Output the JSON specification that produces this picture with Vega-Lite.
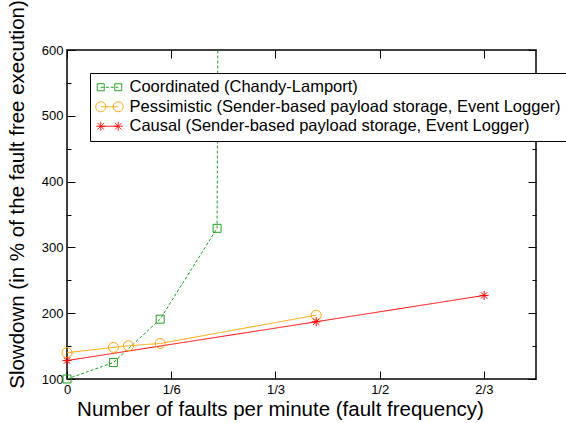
{
  "$schema": "https://vega.github.io/schema/vega-lite/v6.json",
  "width": 469,
  "height": 329,
  "autosize": "none",
  "padding": {"left": 67, "top": 50, "right": 30, "bottom": 44},
  "background": "white",
  "config": {
    "view": {"stroke": "black", "strokeWidth": 1.5},
    "font": "Liberation Sans",
    "axis": {"domain": false, "grid": false, "tickColor": "black", "tickWidth": 1, "labelColor": "black", "titleColor": "black", "labelFont": "Liberation Sans", "titleFont": "Liberation Sans", "titleFontWeight": "normal", "labelFontSize": 13, "titleFontSize": 20.5, "labelFlush": false, "labelOverlap": false},
    "legend": {"labelFont": "Liberation Sans", "labelFontSize": 16.5, "labelColor": "black", "labelLimit": 600, "symbolStrokeWidth": 1, "symbolSize": 196}
  },
  "data": {"values": [
    {"series": "Coordinated (Chandy-Lamport)", "x": 0, "y": 100},
    {"series": "Coordinated (Chandy-Lamport)", "x": 0.0742, "y": 125},
    {"series": "Coordinated (Chandy-Lamport)", "x": 0.149, "y": 191},
    {"series": "Coordinated (Chandy-Lamport)", "x": 0.240, "y": 329},
    {"series": "Coordinated (Chandy-Lamport)", "x": 0.245, "y": 1500},
    {"series": "Pessimistic (Sender-based payload storage, Event Logger)", "x": 0, "y": 140},
    {"series": "Pessimistic (Sender-based payload storage, Event Logger)", "x": 0.0742, "y": 148},
    {"series": "Pessimistic (Sender-based payload storage, Event Logger)", "x": 0.0983, "y": 150.5},
    {"series": "Pessimistic (Sender-based payload storage, Event Logger)", "x": 0.149, "y": 154},
    {"series": "Pessimistic (Sender-based payload storage, Event Logger)", "x": 0.3985, "y": 197},
    {"series": "Causal (Sender-based payload storage, Event Logger)", "x": 0, "y": 128},
    {"series": "Causal (Sender-based payload storage, Event Logger)", "x": 0.3985, "y": 187},
    {"series": "Causal (Sender-based payload storage, Event Logger)", "x": 0.667, "y": 227}
  ]},
  "resolve": {"axis": {"x": "independent", "y": "independent"}},
  "layer": [
    {
      "mark": {"type": "line", "clip": true, "strokeWidth": 1},
      "encoding": {
        "x": {"field": "x", "type": "quantitative", "scale": {"domain": [0, 0.75], "nice": false, "zero": false},
          "axis": {"orient": "bottom", "values": [0, 0.16667, 0.33333, 0.5, 0.66667], "tickSize": -8, "labelPadding": 12, "labelFontSize": 13, "labelFlush": false,
            "labelExpr": "datum.value < 0.01 ? '0' : datum.value < 0.2 ? '1/6' : datum.value < 0.4 ? '1/3' : datum.value < 0.6 ? '1/2' : '2/3'",
            "title": "Number of faults per minute (fault frequency)", "titleX": 213, "titleY": 36, "titleBaseline": "alphabetic", "titleAlign": "center", "titleAnchor": null}},
        "y": {"field": "y", "type": "quantitative", "scale": {"domain": [100, 600], "nice": false, "zero": false},
          "axis": {"orient": "left", "values": [100, 200, 300, 400, 500, 600], "tickSize": -8, "labelPadding": 12, "labelFontSize": 13, "labelFlush": false,
            "title": "Slowdown (in % of the fault free execution)", "titleX": -50, "titleY": 144, "titleBaseline": "middle", "titleAlign": "center", "titleAngle": -90, "titleAnchor": null}},
        "color": {"field": "series", "type": "nominal", "sort": null,
          "scale": {"domain": ["Coordinated (Chandy-Lamport)", "Pessimistic (Sender-based payload storage, Event Logger)", "Causal (Sender-based payload storage, Event Logger)"], "range": ["#22a022", "#ffa500", "#ff0000"]},
          "legend": {"title": null, "orient": "none", "legendX": 23, "legendY": 23, "fillColor": "white", "strokeColor": "black", "cornerRadius": 0, "padding": 6, "symbolSize": 196, "symbolStrokeWidth": 1, "labelOffset": 17, "rowPadding": 2.5, "labelLimit": 600}},
        "strokeDash": {"field": "series", "type": "nominal", "sort": null,
          "scale": {"domain": ["Coordinated (Chandy-Lamport)", "Pessimistic (Sender-based payload storage, Event Logger)", "Causal (Sender-based payload storage, Event Logger)"], "range": [[3, 2], [1, 0], [1, 0]]},
          "legend": {"title": null, "orient": "none", "legendX": 23, "legendY": 23, "fillColor": "white", "strokeColor": "black", "cornerRadius": 0, "padding": 6, "symbolSize": 196, "symbolStrokeWidth": 1, "labelOffset": 17, "rowPadding": 2.5, "labelLimit": 600}}
      }
    },
    {
      "transform": [{"filter": "datum.series == 'Coordinated (Chandy-Lamport)' && datum.y < 1000"}],
      "mark": {"type": "point", "shape": "square", "filled": false, "size": 64, "strokeWidth": 1, "color": "#22a022", "opacity": 1},
      "encoding": {
        "x": {"field": "x", "type": "quantitative", "axis": null},
        "y": {"field": "y", "type": "quantitative", "axis": null}
      }
    },
    {
      "transform": [{"filter": "datum.series == 'Pessimistic (Sender-based payload storage, Event Logger)'"}],
      "mark": {"type": "point", "shape": "circle", "filled": false, "size": 100, "strokeWidth": 1, "color": "#ffa500", "opacity": 1},
      "encoding": {
        "x": {"field": "x", "type": "quantitative", "axis": null},
        "y": {"field": "y", "type": "quantitative", "axis": null}
      }
    },
    {
      "transform": [{"filter": "datum.series == 'Causal (Sender-based payload storage, Event Logger)'"}],
      "mark": {"type": "point", "shape": "M-1,0H1M0,-1V1M-0.7,-0.7L0.7,0.7M-0.7,0.7L0.7,-0.7", "filled": false, "size": 81, "strokeWidth": 1, "color": "#ff0000", "opacity": 1},
      "encoding": {
        "x": {"field": "x", "type": "quantitative", "axis": null},
        "y": {"field": "y", "type": "quantitative", "axis": null}
      }
    },
    {
      "transform": [{"filter": "datum.y < 1000"}],
      "mark": {"type": "point", "filled": false, "strokeWidth": 1, "opacity": 1, "size": 0},
      "encoding": {
        "x": {"field": "x", "type": "quantitative", "axis": {"orient": "top", "values": [0, 0.16667, 0.33333, 0.5, 0.66667], "tickSize": -8, "labels": false, "title": null}},
        "y": {"field": "y", "type": "quantitative", "axis": {"orient": "right", "values": [100, 200, 300, 400, 500, 600], "tickSize": -8, "labels": false, "title": null}},
        "color": {"field": "series", "type": "nominal", "sort": null},
        "strokeDash": {"field": "series", "type": "nominal", "sort": null},
        "shape": {"field": "series", "type": "nominal", "sort": null,
          "scale": {"domain": ["Coordinated (Chandy-Lamport)", "Pessimistic (Sender-based payload storage, Event Logger)", "Causal (Sender-based payload storage, Event Logger)"],
            "range": [
              "M-1,-0.5H-0.6M-0.6,-0.5H-0.3M-0.3,-0.5H0M0,-0.5V-0.1M0,-0.1V0.2M0,0.2V0.5M0,0.5H-0.4M-0.4,0.5H-0.7M-0.7,0.5H-1M-1,0.5V0.1M-1,0.1V-0.2M-1,-0.2V-0.5M1.5,-0.5H1.9M1.9,-0.5H2.2M2.2,-0.5H2.5M2.5,-0.5V-0.1M2.5,-0.1V0.2M2.5,0.2V0.5M2.5,0.5H2.1M2.1,0.5H1.8M1.8,0.5H1.5M1.5,0.5V0.1M1.5,0.1V-0.2M1.5,-0.2V-0.5M-0.5,0H2",
              "M0.214,0A0.714,0.714 0 1,1 -1.214,0A0.714,0.714 0 1,1 0.214,0Z M2.714,0A0.714,0.714 0 1,1 1.286,0A0.714,0.714 0 1,1 2.714,0Z M-0.5,0H2",
              "M-1.143,0H0.143M-0.5,-0.643V0.643M-0.955,-0.455L-0.045,0.455M-0.955,0.455L-0.045,-0.455M1.357,0H2.643M2,-0.643V0.643M1.545,-0.455L2.455,0.455M1.545,0.455L2.455,-0.455M-0.5,0H2"
            ]},
          "legend": {"title": null, "orient": "none", "legendX": 23, "legendY": 23, "fillColor": "white", "strokeColor": "black", "cornerRadius": 0, "padding": 6, "symbolSize": 196, "symbolStrokeWidth": 1, "labelOffset": 17, "rowPadding": 2.5, "labelLimit": 600}}
      }
    },
    {
      "transform": [{"filter": "false"}],
      "mark": {"type": "point"},
      "encoding": {
        "x": {"field": "x", "type": "quantitative", "axis": null},
        "y": {"field": "y", "type": "quantitative", "axis": {"orient": "left", "values": [150, 250, 350, 450, 550], "tickSize": -4, "labels": false, "title": null}}
      }
    },
    {
      "transform": [{"filter": "false"}],
      "mark": {"type": "point"},
      "encoding": {
        "x": {"field": "x", "type": "quantitative", "axis": null},
        "y": {"field": "y", "type": "quantitative", "axis": {"orient": "right", "values": [150, 250, 350, 450, 550], "tickSize": -4, "labels": false, "title": null}}
      }
    }
  ]
}
